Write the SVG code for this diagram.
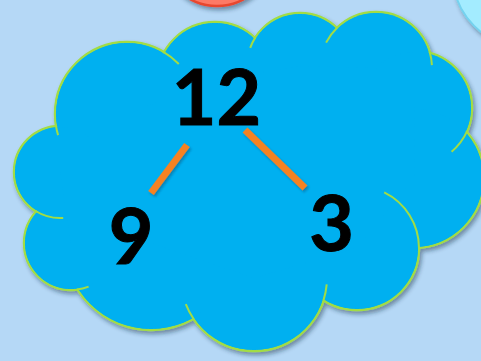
<svg xmlns="http://www.w3.org/2000/svg" width="481" height="361" viewBox="0 0 481 361">
<defs>
<filter id="sh" x="-20%" y="-20%" width="140%" height="140%">
<feDropShadow dx="2" dy="3" stdDeviation="2.2" flood-color="#1a2a40" flood-opacity="0.45"/>
</filter>
<filter id="sh2" x="-30%" y="-30%" width="160%" height="160%">
<feDropShadow dx="1.5" dy="2" stdDeviation="1.2" flood-color="#1a2a40" flood-opacity="0.35"/>
</filter>
</defs>
<style>
.lobe{fill:#00b0f0;stroke:#a2dc44;stroke-width:2.4}
.fill{fill:#00b0f0;stroke:none}
.inner{fill:none;stroke:#a2dc44;stroke-width:2}
.num{font-family:Lato,"Open Sans","Liberation Sans",sans-serif;font-weight:700;font-size:77px;fill:#000;stroke:#000;stroke-width:1;text-anchor:middle}
.link{stroke:#f58220;stroke-width:7;stroke-linecap:butt}
</style>
<rect width="481" height="361" fill="#b5d8f6"/>
<g id="red-circle" filter="url(#sh)">
<circle cx="217" cy="-49" r="55" fill="#fd7a66" stroke="#e8472f" stroke-width="2.5"/>
</g>
<g id="cyan-circle" filter="url(#sh)">
<circle cx="525" cy="-25" r="72" fill="#a3ecff" stroke="#74d2ef" stroke-width="2"/>
</g>
<g id="cloud">
<g filter="url(#sh)">
<g>
<circle class="lobe" cx="127" cy="114" r="72"/>
<circle class="lobe" cx="215" cy="80" r="58"/>
<circle class="lobe" cx="300" cy="66" r="53"/>
<circle class="lobe" cx="376" cy="68" r="56"/>
<circle class="lobe" cx="415" cy="108" r="57"/>
<circle class="lobe" cx="414" cy="178" r="70"/>
<circle class="lobe" cx="357" cy="248" r="62"/>
<circle class="lobe" cx="254" cy="278" r="73"/>
<circle class="lobe" cx="151" cy="243" r="87"/>
<circle class="lobe" cx="71" cy="243" r="47"/>
<circle class="lobe" cx="60" cy="172" r="46"/>
</g>
<g>
<circle class="fill" cx="127" cy="114" r="71"/>
<circle class="fill" cx="215" cy="80" r="57"/>
<circle class="fill" cx="300" cy="66" r="52"/>
<circle class="fill" cx="376" cy="68" r="55"/>
<circle class="fill" cx="415" cy="108" r="56"/>
<circle class="fill" cx="414" cy="178" r="69"/>
<circle class="fill" cx="357" cy="248" r="61"/>
<circle class="fill" cx="254" cy="278" r="72"/>
<circle class="fill" cx="151" cy="243" r="86"/>
<circle class="fill" cx="71" cy="243" r="46"/>
<circle class="fill" cx="60" cy="172" r="45"/>
<polygon class="fill" points="127,114 215,80 300,66 376,68 415,108 414,178 357,248 254,278 151,243 71,243 60,172"/>
</g>
</g>
<path class="inner" d="M55.9,125.3 A72,72 0 0 0 58.1,135.1"/>
<path class="inner" d="M163.0,51.6 A72,72 0 0 1 178.8,64.0"/>
<path class="inner" d="M255.5,37.1 A53,53 0 0 0 250.2,47.9"/>
<path class="inner" d="M337.1,27.7 A56,56 0 0 0 326.1,42.6"/>
<path class="inner" d="M429.6,51.6 A56,56 0 0 1 431.9,65.1"/>
<path class="inner" d="M467.1,131.2 A57,57 0 0 1 451.6,151.7"/>
<path class="inner" d="M384.2,192.3 A62,62 0 0 1 419,248"/>
<path class="inner" d="M323.4,300.6 A73,73 0 0 0 326.7,284.4"/>
<path class="inner" d="M193.5,318.8 A73,73 0 0 1 185.8,304.2"/>
<path class="inner" d="M76.7,289.6 A47,47 0 0 0 88.6,286.6"/>
<path class="inner" d="M35.6,211.0 A46,46 0 0 0 63.2,217.9"/>
</g>
<g id="connectors" filter="url(#sh2)">
<line class="link" x1="187" y1="145" x2="151" y2="193"/>
<line class="link" x1="245" y1="130" x2="305" y2="188"/>
</g>
<g id="node-12"><text class="num" x="216.5" y="125">12</text></g>
<g id="node-9"><text class="num" x="131" y="264">9</text></g>
<g id="node-3"><text class="num" x="331.5" y="251">3</text></g>
</svg>
